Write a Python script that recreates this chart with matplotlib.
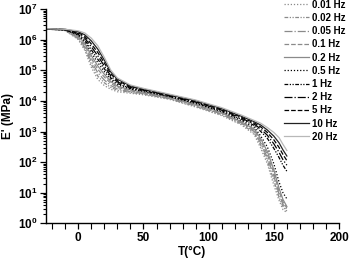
import numpy as np
import matplotlib
matplotlib.use("Agg")
import matplotlib.pyplot as plt
from matplotlib.ticker import LogLocator, FixedLocator, MultipleLocator, NullFormatter

plt.rcParams['font.family'] = ['Liberation Sans', 'DejaVu Sans']
plt.rcParams['font.weight'] = 'bold'
plt.rcParams['mathtext.fontset'] = 'custom'
plt.rcParams['mathtext.rm'] = 'Liberation Sans:bold'
plt.rcParams['mathtext.it'] = 'Liberation Sans:bold'
plt.rcParams['mathtext.bf'] = 'Liberation Sans:bold'
plt.rcParams['mathtext.default'] = 'regular'

# Temperature grid (°C)
temp = [-25, -10, 0, 5, 10, 15, 20, 25, 30, 40, 50, 70, 90, 110,
        125, 135, 140, 145, 150, 154, 157, 160]

# log10(E' / MPa) for each frequency
logE_0p01 = [6.35, 6.30, 6.00, 5.65, 5.10, 4.70, 4.50, 4.38, 4.30, 4.25, 4.20, 4.05, 3.80, 3.52,
             3.22, 2.90, 2.45, 1.95, 1.25, 0.75, 0.45, 0.35]
logE_0p02 = [6.35, 6.30, 6.03, 5.71, 5.20, 4.81, 4.59, 4.44, 4.35, 4.28, 4.22, 4.07, 3.82, 3.55,
             3.25, 2.95, 2.55, 2.05, 1.40, 0.85, 0.55, 0.40]
logE_0p05 = [6.35, 6.31, 6.06, 5.76, 5.29, 4.92, 4.68, 4.50, 4.39, 4.30, 4.24, 4.08, 3.85, 3.57,
             3.28, 3.00, 2.62, 2.15, 1.55, 0.95, 0.62, 0.45]
logE_0p1 = [6.35, 6.31, 6.09, 5.82, 5.39, 5.03, 4.78, 4.57, 4.44, 4.33, 4.26, 4.10, 3.87, 3.60,
            3.30, 3.04, 2.70, 2.25, 1.65, 1.05, 0.70, 0.50]
logE_0p2 = [6.35, 6.32, 6.12, 5.88, 5.48, 5.14, 4.87, 4.63, 4.48, 4.36, 4.28, 4.12, 3.89, 3.62,
            3.32, 3.08, 2.76, 2.35, 1.75, 1.15, 0.78, 0.55]
logE_0p5 = [6.35, 6.32, 6.15, 5.94, 5.58, 5.25, 4.96, 4.69, 4.53, 4.39, 4.31, 4.14, 3.92, 3.65,
            3.36, 3.14, 2.85, 2.50, 1.95, 1.35, 1.00, 0.80]
logE_1 = [6.36, 6.32, 6.17, 5.99, 5.67, 5.36, 5.05, 4.75, 4.57, 4.41, 4.33, 4.15, 3.94, 3.68,
          3.40, 3.20, 3.00, 2.78, 2.45, 2.15, 1.90, 1.70]
logE_2 = [6.36, 6.33, 6.20, 6.05, 5.77, 5.47, 5.14, 4.81, 4.62, 4.44, 4.35, 4.17, 3.96, 3.70,
          3.44, 3.24, 3.08, 2.88, 2.60, 2.32, 2.08, 1.90]
logE_5 = [6.36, 6.33, 6.23, 6.11, 5.86, 5.58, 5.24, 4.88, 4.66, 4.47, 4.37, 4.19, 3.98, 3.73,
          3.47, 3.28, 3.15, 2.97, 2.73, 2.48, 2.25, 2.05]
logE_10 = [6.36, 6.34, 6.26, 6.16, 5.96, 5.69, 5.33, 4.94, 4.71, 4.49, 4.39, 4.20, 4.01, 3.75,
           3.50, 3.32, 3.21, 3.05, 2.85, 2.63, 2.40, 2.20]
logE_20 = [6.36, 6.34, 6.29, 6.22, 6.05, 5.80, 5.42, 5.00, 4.75, 4.52, 4.41, 4.22, 4.03, 3.78,
           3.54, 3.36, 3.27, 3.13, 2.97, 2.80, 2.58, 2.38]

labels = ['0.01 Hz', '0.02 Hz', '0.05 Hz', '0.1 Hz', '0.2 Hz', '0.5 Hz',
          '1 Hz', '2 Hz', '5 Hz', '10 Hz', '20 Hz']
series = [logE_0p01, logE_0p02, logE_0p05, logE_0p1, logE_0p2, logE_0p5,
          logE_1, logE_2, logE_5, logE_10, logE_20]
x_ticks = [0, 50, 100, 150, 200]
y_ticks = [1e0, 1e1, 1e2, 1e3, 1e4, 1e5, 1e6, 1e7]

gray = '#8a8a8a'
colors = [gray, gray, gray, gray, gray, 'black', 'black', 'black', 'black', '#222222', '#b8b8b8']
dashdotdot = (0, (3, 1.2, 1, 1.2, 1, 1.2))
styles = [(0, (1, 1.5)), dashdotdot, '-.', '--', '-',
          (0, (1, 1.5)), dashdotdot, '-.', '--', '-', '-']

fig = plt.figure(figsize=(3.5, 2.6), dpi=100)
ax = fig.add_axes([0.1306, 0.141, 0.838, 0.824])

for vals, lab, c, ls in zip(series, labels, colors, styles):
    ax.plot(temp, 10 ** np.array(vals), color=c, linestyle=ls, lw=0.9, label=lab)

ax.set_yscale('log')
ax.set_xlim(-25, 200)
ax.set_ylim(1, 1e7)
ax.xaxis.set_major_locator(FixedLocator(x_ticks))
ax.xaxis.set_minor_locator(MultipleLocator(10))
ax.yaxis.set_major_locator(FixedLocator(y_ticks))
ax.yaxis.set_minor_locator(LogLocator(base=10, subs=np.arange(2, 10), numticks=20))
ax.yaxis.set_minor_formatter(NullFormatter())
for s in ['top', 'right']:
    ax.spines[s].set_visible(False)
for s in ['left', 'bottom']:
    ax.spines[s].set_linewidth(1.0)
ax.tick_params(which='major', direction='out', length=4, width=0.9, labelsize=8.5, pad=2)
ax.tick_params(which='minor', direction='out', length=2.5, width=0.8)
ax.tick_params(axis='x', which='minor', length=4)

ax.set_xlabel('T(°C)', fontsize=8.5, fontweight='bold', labelpad=2)
ax.set_ylabel("E' (MPa)", fontsize=8.5, fontweight='bold', labelpad=3)

fig.legend(loc='upper left', bbox_to_anchor=(283 / 350, 1.005), frameon=False,
           fontsize=7, handlelength=2.6, handletextpad=0.3, labelspacing=0.33,
           borderpad=0.1, borderaxespad=0)

fig.savefig('out.png', dpi=100)
